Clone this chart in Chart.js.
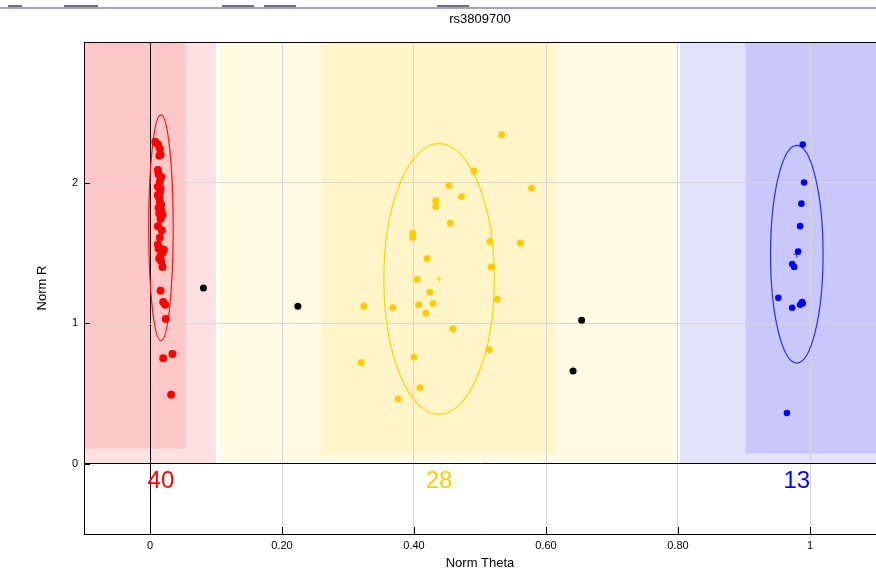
<!DOCTYPE html>
<html>
<head>
<meta charset="utf-8">
<title>rs3809700</title>
<script src="https://cdn.jsdelivr.net/npm/chart.js@4.4.0/dist/chart.umd.min.js"></script>
<style>
  html, body { margin: 0; padding: 0; background: #fff; }
  #wrap { position: relative; width: 876px; height: 571px; overflow: hidden; }
  #topbar { position: absolute; left: 0; top: 7px; width: 876px; height: 2px; background: #a4a4b8; }
  .tab { position: absolute; top: 5px; height: 2px; background: #6e6e82; }
</style>
</head>
<body>
<div id="wrap">
  <canvas id="clusterChart" width="876" height="571"></canvas>
  <div id="topbar"></div>
  <div class="tab" style="left:8px;width:14px"></div>
  <div class="tab" style="left:64px;width:34px"></div>
  <div class="tab" style="left:222px;width:32px"></div>
  <div class="tab" style="left:264px;width:32px"></div>
  <div class="tab" style="left:437px;width:32px"></div>
</div>
<script>
// genotype clusters (Norm Theta / Norm R)
const aaTheta = [0.008, 0.012, 0.015, 0.016, 0.014, 0.012, 0.017, 0.015, 0.012, 0.015,
                 0.014, 0.015, 0.013, 0.017, 0.019, 0.016, 0.012, 0.015, 0.013, 0.017,
                 0.021, 0.016, 0.014, 0.017, 0.019, 0.016, 0.020, 0.023, 0.024, 0.020,
                 0.034, 0.032, 0.013, 0.016, 0.012, 0.017, 0.014, 0.018, 0.012, 0.019];
const aaR     = [2.29, 2.27, 2.24, 2.20, 2.19, 2.09, 2.04, 2.01, 1.97, 1.93,
                 1.89, 1.86, 1.82, 1.80, 1.77, 1.74, 1.69, 1.61, 1.53, 1.53,
                 1.52, 1.48, 1.46, 1.44, 1.40, 1.23, 1.15, 1.13, 1.03, 0.75,
                 0.78, 0.49, 2.06, 1.96, 1.91, 1.84, 1.78, 1.66, 1.56, 1.50];

const abTheta = [0.533, 0.491, 0.453, 0.578, 0.472, 0.433, 0.433, 0.455, 0.398, 0.398,
                 0.515, 0.561, 0.420, 0.517, 0.405, 0.424, 0.526, 0.324, 0.368, 0.407,
                 0.429, 0.418, 0.459, 0.514, 0.320, 0.400, 0.409, 0.376];
const abR     = [2.34, 2.08, 1.98, 1.96, 1.90, 1.87, 1.83, 1.71, 1.64, 1.61,
                 1.58, 1.57, 1.46, 1.40, 1.31, 1.22, 1.17, 1.12, 1.11, 1.13,
                 1.14, 1.07, 0.96, 0.81, 0.72, 0.76, 0.54, 0.46];

const bbTheta = [0.989, 0.991, 0.987, 0.985, 0.982, 0.973, 0.976, 0.952, 0.973, 0.985,
                 0.988, 0.989, 0.965];
const bbR     = [2.27, 2.00, 1.85, 1.69, 1.51, 1.42, 1.40, 1.18, 1.11, 1.13,
                 1.15, 1.14, 0.36];

// no-calls
const ncTheta = [0.081, 0.224, 0.654, 0.641];
const ncR     = [1.25, 1.12, 1.02, 0.66];

// cluster ellipses: centre and half-axes
const clusterTheta = [0.0166, 0.438, 0.980];
const clusterR     = [1.678, 1.314, 1.490];
const clusterThetaDev = [0.0186, 0.0837, 0.0398];
const clusterRDev     = [0.804, 0.963, 0.774];
const clusterCounts = [aaTheta.length, abTheta.length, bbTheta.length];
const countLabelR = -0.125;

// call regions (theta from/to, R from/to)
const regionFrom   = [-0.1, 0.106, 0.803, -0.1, 0.261, 0.902];
const regionTo     = [0.100, 0.797, 1.1, 0.054, 0.615, 1.1];
const regionRFrom  = [0, 0, 0, 0.106, 0.065, 0.072];
const regionRTo    = [3, 3, 3, 3, 3, 3];

const xTicks = [0, 0.2, 0.4, 0.6, 0.8, 1];
const xTickLabels = ['0', '0.20', '0.40', '0.60', '0.80', '1'];
const yTicks = [0, 1, 2];
const yTickLabels = ['0', '1', '2'];

const clusterColors = ['#ff0000', '#ffcc00', '#0000ff'];
const ellipseColors = ['#ff1010', '#ffd200', '#2a2aff'];
const regionColors = ['#ffe0e0', '#fffbe2', '#e2e2fc', '#ffc8c8', '#fff5c8', '#c8c8fc'];

function toPoints(xs, ys) {
  return xs.map((x, i) => ({ x: x, y: ys[i] }));
}

const clusterPlugin = {
  id: 'clusterDecor',
  beforeDraw(chart) {
    const { ctx, scales: { x, y } } = chart;
    ctx.save();
    regionFrom.forEach((from, i) => {
      const l = x.getPixelForValue(from);
      const r = x.getPixelForValue(regionTo[i]);
      const t = y.getPixelForValue(regionRTo[i]);
      const b = y.getPixelForValue(regionRFrom[i]);
      ctx.fillStyle = regionColors[i];
      ctx.fillRect(l, t, r - l, b - t);
    });
    ctx.restore();
  },
  beforeDatasetsDraw(chart) {
    const { ctx, scales: { x, y } } = chart;
    ctx.save();
    ctx.lineWidth = 1.2;
    clusterTheta.forEach((cx, i) => {
      const px = x.getPixelForValue(cx);
      const py = y.getPixelForValue(clusterR[i]);
      const rx = x.getPixelForValue(cx + clusterThetaDev[i]) - px;
      const ry = py - y.getPixelForValue(clusterR[i] + clusterRDev[i]);
      ctx.strokeStyle = ellipseColors[i];
      ctx.beginPath();
      ctx.ellipse(px, py, rx, ry, 0, 0, Math.PI * 2);
      ctx.stroke();
      // centre cross
      ctx.beginPath();
      ctx.moveTo(px - 3.5, py); ctx.lineTo(px + 3.5, py);
      ctx.moveTo(px, py - 3.5); ctx.lineTo(px, py + 3.5);
      ctx.stroke();
    });
    ctx.restore();
  },
  afterDraw(chart) {
    const { ctx, chartArea, scales: { x, y } } = chart;
    ctx.save();
    // top border and inward tick marks
    ctx.strokeStyle = '#000';
    ctx.lineWidth = 1;
    ctx.beginPath();
    ctx.moveTo(chartArea.left, chartArea.top + 0.5);
    ctx.lineTo(chartArea.right, chartArea.top + 0.5);
    yTicks.forEach(v => {
      const py = Math.round(y.getPixelForValue(v)) + 0.5;
      ctx.moveTo(chartArea.left, py); ctx.lineTo(chartArea.left + 6, py);
    });
    xTicks.forEach(v => {
      const px = Math.round(x.getPixelForValue(v)) + 0.5;
      ctx.moveTo(px, chartArea.bottom); ctx.lineTo(px, chartArea.bottom - 7);
    });
    ctx.stroke();
    // cluster counts
    ctx.font = '24px "Liberation Sans", Arial, sans-serif';
    ctx.textAlign = 'center';
    ctx.textBaseline = 'middle';
    clusterCounts.forEach((n, i) => {
      ctx.fillStyle = clusterColors[i];
      ctx.fillText(String(n), x.getPixelForValue(clusterTheta[i]), y.getPixelForValue(countLabelR));
    });
    ctx.restore();
  }
};

const tickFont = { family: '"Liberation Sans", Arial, sans-serif', size: 11 };
const titleFont = { family: '"Liberation Sans", Arial, sans-serif', size: 13, weight: 'normal' };

new Chart(document.getElementById('clusterChart').getContext('2d'), {
  type: 'scatter',
  data: {
    datasets: [
      { label: 'AB', data: toPoints(abTheta, abR), backgroundColor: clusterColors[1], pointRadius: 3.5 },
      { label: 'No call', data: toPoints(ncTheta, ncR), backgroundColor: '#000', pointRadius: 3.5 },
      { label: 'BB', data: toPoints(bbTheta, bbR), backgroundColor: clusterColors[2], pointRadius: 3.3 },
      { label: 'AA', data: toPoints(aaTheta, aaR), backgroundColor: clusterColors[0], pointRadius: 4 }
    ]
  },
  options: {
    responsive: false,
    animation: false,
    layout: { autoPadding: false, padding: { left: 0, right: 0, top: 0, bottom: 0 } },
    elements: { point: { borderWidth: 0, hoverRadius: 4 } },
    plugins: {
      legend: { display: false },
      tooltip: { enabled: false },
      title: {
        display: true,
        text: 'rs3809700',
        fullSize: false,
        color: '#000',
        font: titleFont,
        padding: { top: 12, bottom: 14.4 }
      }
    },
    scales: {
      x: {
        type: 'linear',
        min: -0.1,
        max: 1.1,
        afterBuildTicks: s => { s.ticks = xTicks.map(v => ({ value: v })); },
        afterFit: s => { s.height = 37; },
        ticks: {
          color: '#000',
          font: tickFont,
          padding: 5,
          callback: (v, i) => xTickLabels[i]
        },
        grid: {
          drawTicks: false,
          color: c => (c.tick && c.tick.value === 0 ? '#000' : '#d6d6d6')
        },
        border: { display: true, color: '#000', width: 1 },
        title: { display: true, text: 'Norm Theta', color: '#000', font: titleFont, padding: { top: 0, bottom: 0 } }
      },
      y: {
        type: 'linear',
        min: -0.5,
        max: 3,
        afterBuildTicks: s => { s.ticks = yTicks.map(v => ({ value: v })); },
        afterFit: s => { s.width = 84; },
        ticks: {
          color: '#000',
          font: tickFont,
          padding: 6,
          callback: (v, i) => yTickLabels[i]
        },
        grid: {
          drawTicks: false,
          color: c => (c.tick && c.tick.value === 0 ? '#000' : '#d6d6d6')
        },
        border: { display: true, color: '#000', width: 1 },
        title: { display: true, text: 'Norm R', color: '#000', font: titleFont, padding: { top: 35, bottom: 0 } }
      }
    }
  },
  plugins: [clusterPlugin]
});
</script>
</body>
</html>
